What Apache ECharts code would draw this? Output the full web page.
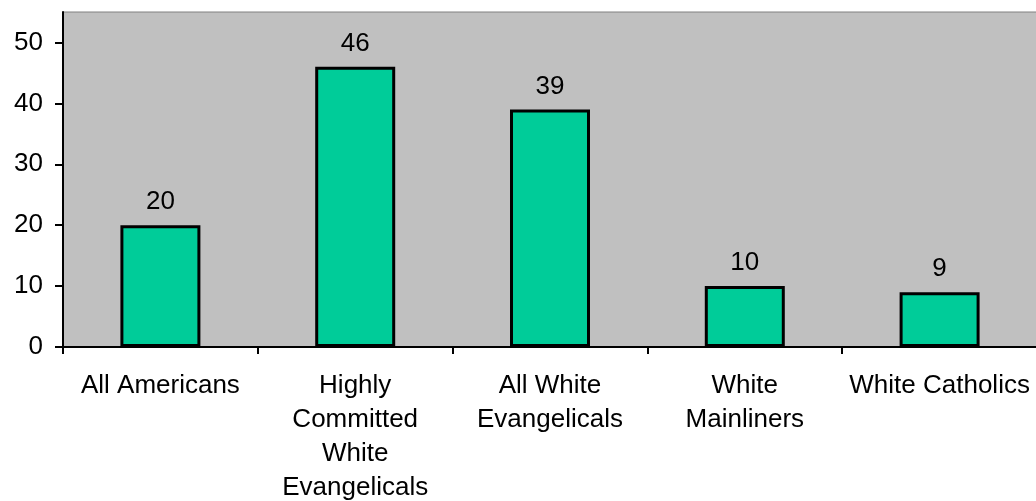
<!DOCTYPE html>
<html>
<head>
<meta charset="utf-8">
<script src="https://cdn.jsdelivr.net/npm/echarts@6/dist/echarts.min.js"></script>
<style>
html,body{margin:0;padding:0;background:#fff;}
#chart{width:1036px;height:501px;}
</style>
</head>
<body>
<div id="chart"></div>
<script>
const categories = ['All Americans', 'Highly\nCommitted\nWhite\nEvangelicals', 'All White\nEvangelicals', 'White\nMainliners', 'White Catholics'];
const values = [20, 46, 39, 10, 9];
const yTicks = [0, 10, 20, 30, 40, 50];

const FONT = '"Liberation Sans", Arial, sans-serif';
const chart = echarts.init(document.getElementById('chart'));
chart.setOption({
  animation: false,
  backgroundColor: '#ffffff',
  grid: {
    left: 63, right: -1, top: 12, bottom: 154,
    outerBoundsMode: 'none', containLabel: false,
    show: true, backgroundColor: '#C0C0C0', borderColor: '#808080', borderWidth: 1
  },
  xAxis: {
    type: 'category',
    data: categories,
    boundaryGap: true,
    axisLine: { lineStyle: { color: '#000', width: 2 } },
    axisTick: { show: true, length: 7, lineStyle: { color: '#000', width: 2 } },
    axisLabel: {
      color: '#000', fontFamily: FONT, fontSize: 26, lineHeight: 34,
      margin: 22, interval: 0
    },
    splitLine: { show: false }
  },
  yAxis: {
    type: 'value',
    min: 0, max: 55, interval: 10,
    axisLine: { show: true, lineStyle: { color: '#000', width: 2 } },
    axisTick: { show: true, length: 8, lineStyle: { color: '#000', width: 2 }, customValues: yTicks },
    axisLabel: { color: '#000', fontFamily: FONT, fontSize: 26, margin: 20, customValues: yTicks },
    splitLine: { show: false }
  },
  series: [{
    type: 'bar',
    data: values,
    barWidth: 80,
    itemStyle: { color: '#00CC99', borderColor: '#000', borderWidth: 3 },
    label: {
      show: true, position: 'top', distance: 10,
      color: '#000', fontFamily: FONT, fontSize: 26
    }
  }]
});
</script>
</body>
</html>
